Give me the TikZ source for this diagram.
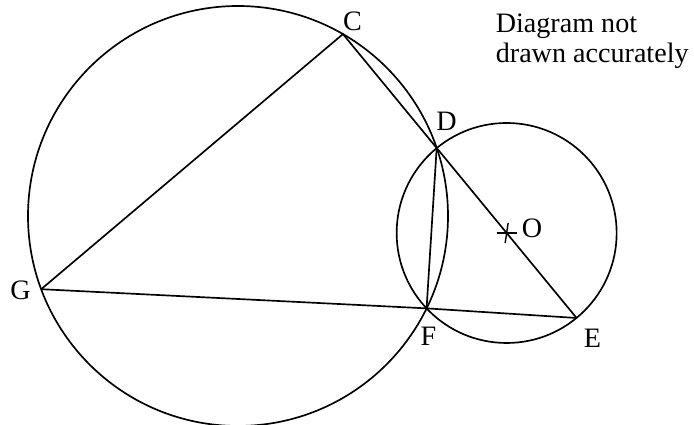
\documentclass[tikz,border=0pt]{standalone}
\usepackage{fontspec}
\setmainfont{Liberation Serif}
\usetikzlibrary{calc}

\begin{document}
\begin{tikzpicture}[line width=0.95pt,
    lbl/.style={font=\fontsize{16}{18}\selectfont, inner sep=0pt}]
  \useasboundingbox (0,0) rectangle (13.88,8.5);

  % centres and points on the circles
  \coordinate (P) at (4.76,4.18);
  \coordinate (O) at (10.133,3.84);
  \coordinate (C) at (6.859,7.818);
  \coordinate (D) at ($(P)+(18.9:4.2)$);
  \coordinate (F) at ($(P)+(-26.1:4.2)$);
  \coordinate (G) at ($(P)+(200.4:4.2)$);
  \coordinate (E) at (11.532,2.14);

  \draw (P) circle (4.2);
  \draw (O) circle (2.2);

  \draw (G) -- (C) -- (D) -- (E);
  \draw (G) -- (F) -- (E);
  \draw (D) -- (F);

  % mark at O
  \draw[line width=0.8pt] ($(O)+(-0.2,0)$) -- ($(O)+(0.2,0)$);
  \draw[line width=0.8pt] ($(O)+(-0.03,-0.2)$) -- ($(O)+(0.03,0.2)$);

  \node[lbl] (lC) at (7.05,8.07) {C};
  \node[lbl] (lD) at (8.93,6.07) {D};
  \node[lbl] (lG) at (0.41,2.70) {G};
  \node[lbl] (lF) at (8.57,1.78) {F};
  \node[lbl] (lE) at (11.85,1.74) {E};
  \node[lbl] (lO) at (10.64,3.93) {O};
  \node[lbl, anchor=base west] (note1) at (9.9,7.84) {Diagram not};
  \node[lbl, anchor=base west] (note2) at (9.9,7.24) {drawn accurately};
\end{tikzpicture}
\end{document}
